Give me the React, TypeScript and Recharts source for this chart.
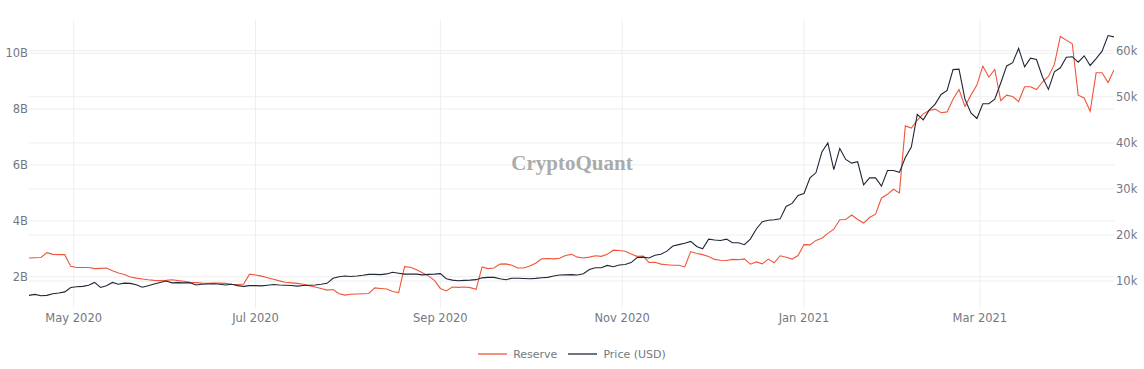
import React from 'react';
import { LineChart, Line, XAxis, YAxis, CartesianGrid, Legend } from 'recharts';

// one sample every 2 days, starting 16 Apr 2020
const START = Date.UTC(2020, 3, 16);
const DAY = 86400000;
const STEP_DAYS = 2;

// exchange reserve, billions
const reserve = [
  2.67, 2.68, 2.69, 2.86, 2.8, 2.79, 2.79, 2.37, 2.33, 2.33,
  2.33, 2.29, 2.3, 2.31, 2.21, 2.13, 2.08, 1.99, 1.95, 1.92,
  1.89, 1.87, 1.86, 1.87, 1.89, 1.86, 1.84, 1.8, 1.79, 1.77,
  1.76, 1.77, 1.77, 1.76, 1.73, 1.72, 1.74, 2.09, 2.06, 2.02,
  1.96, 1.91, 1.85, 1.8, 1.78, 1.76, 1.73, 1.68, 1.63, 1.58,
  1.52, 1.54, 1.39, 1.34, 1.37, 1.38, 1.39, 1.4, 1.6, 1.58,
  1.56, 1.47, 1.43, 2.36, 2.34, 2.25, 2.14, 2.03, 1.87, 1.58,
  1.49, 1.63, 1.62, 1.63, 1.61, 1.55, 2.35, 2.29, 2.31, 2.45,
  2.46, 2.41, 2.31, 2.31, 2.38, 2.48, 2.64, 2.65, 2.64, 2.66,
  2.76, 2.8, 2.7, 2.67, 2.7, 2.75, 2.73, 2.8, 2.95, 2.94,
  2.91, 2.81, 2.73, 2.74, 2.51, 2.52, 2.45, 2.43, 2.41, 2.41,
  2.35, 2.9, 2.83, 2.79, 2.72, 2.62, 2.59, 2.58, 2.62, 2.61,
  2.64, 2.45, 2.53, 2.46, 2.63, 2.5, 2.75, 2.7, 2.63, 2.76,
  3.15, 3.14, 3.3, 3.38, 3.55, 3.7, 4.04, 4.05, 4.21, 4.05,
  3.92, 4.12, 4.24, 4.82, 4.95, 5.13, 5.0, 7.4, 7.32, 7.6,
  7.83, 7.95, 8.0, 7.87, 7.9, 8.35, 8.7, 8.1, 8.5, 8.86,
  9.54, 9.15, 9.42, 8.3, 8.5, 8.45, 8.27, 8.8, 8.8, 8.7,
  8.97, 9.17, 9.6, 10.6, 10.47, 10.34, 8.5, 8.4, 7.92, 9.3,
  9.3, 8.95, 9.4,
];

// BTC price, thousands of USD
const price = [
  6.9, 7.1, 6.8, 6.9, 7.25, 7.4, 7.65, 8.6, 8.75, 8.85,
  9.1, 9.7, 8.6, 9.0, 9.7, 9.3, 9.55, 9.5, 9.2, 8.65,
  9.0, 9.35, 9.7, 10.0, 9.6, 9.65, 9.6, 9.65, 9.15, 9.3,
  9.35, 9.4, 9.3, 9.15, 9.3, 9.0, 8.85, 9.0, 9.0, 8.95,
  9.1, 9.25, 9.15, 9.1, 9.05, 8.9, 9.05, 9.1, 9.15, 9.3,
  9.5, 10.6, 10.95, 11.1, 11.0, 11.1, 11.25, 11.45, 11.45, 11.4,
  11.55, 11.9, 11.7, 11.5, 11.5, 11.5, 11.35, 11.45, 11.5, 11.6,
  10.5, 10.2, 10.07, 10.14, 10.2, 10.3, 10.7, 10.8, 10.8, 10.5,
  10.3, 10.6, 10.6, 10.55, 10.5, 10.58, 10.7, 10.8, 11.1, 11.3,
  11.35, 11.4, 11.3, 11.6, 12.5, 12.9, 12.9, 13.4, 13.1, 13.47,
  13.6, 14.0, 15.1, 15.2, 15.0, 15.6, 15.8, 16.5, 17.6, 17.9,
  18.2, 18.6, 17.5, 17.0, 19.1, 18.9, 18.8, 19.1, 18.3, 18.3,
  17.9, 19.1, 21.3, 22.9, 23.2, 23.3, 23.5, 26.2, 26.85, 28.6,
  29.0, 32.4, 33.5, 38.0, 40.0, 34.2, 38.8, 36.4, 35.6, 35.9,
  30.9, 32.4, 32.4, 30.6, 34.0, 34.0, 33.6, 36.8, 39.1, 46.2,
  45.0, 47.1, 48.4, 50.5, 51.4, 55.9, 56.0, 49.5, 46.5, 45.3,
  48.5, 48.5, 49.5, 53.0, 56.7, 57.4, 60.5, 56.5, 58.4, 58.1,
  54.3, 51.6, 55.4, 56.3, 58.6, 58.7, 57.5, 58.9, 56.8, 58.3,
  59.9, 63.3, 63.0,
];

const monthTicks = [
  Date.UTC(2020, 4, 1),
  Date.UTC(2020, 6, 1),
  Date.UTC(2020, 8, 1),
  Date.UTC(2020, 10, 1),
  Date.UTC(2021, 0, 1),
  Date.UTC(2021, 2, 1),
];
const monthLabels = ['May 2020', 'Jul 2020', 'Sep 2020', 'Nov 2020', 'Jan 2021', 'Mar 2021'];

const reserveTicks = [2, 4, 6, 8, 10];
const priceTicks = [10, 20, 30, 40, 50, 60];

const legendOrder = ['Reserve', 'Price (USD)'];

const data = reserve.map((r, i) => ({
  t: START + i * STEP_DAYS * DAY,
  reserve: r,
  price: price[i],
}));

const FONT = '"DejaVu Sans", Verdana, sans-serif';
const TEXT = '#737884';
const GRID = '#eeeeee';

const tickStyle = { fill: TEXT, fontSize: 11.5, fontFamily: FONT };

const renderLegend = (props: any) => {
  const items = [...(props.payload || [])].sort(
    (a: any, b: any) => legendOrder.indexOf(a.value) - legendOrder.indexOf(b.value)
  );
  return (
    <div
      style={{
        display: 'flex',
        justifyContent: 'center',
        alignItems: 'center',
        gap: 11,
        height: 20,
        fontFamily: FONT,
        fontSize: 11,
        color: TEXT,
      }}
    >
      {items.map((entry: any) => (
        <div key={entry.value} style={{ display: 'flex', alignItems: 'center' }}>
          <svg width={29} height={4}>
            <line x1={0} y1={2} x2={29} y2={2} stroke={entry.color} strokeWidth={1.3} />
          </svg>
          <span style={{ marginLeft: 6 }}>{entry.value}</span>
        </div>
      ))}
    </div>
  );
};

const App: React.FC = () => {
  return (
    <div style={{ position: 'absolute', left: 0, top: 0, width: 1144, height: 369, background: '#fff' }}>
      <LineChart width={1144} height={369} data={data} margin={{ top: 20, right: 0, left: 0, bottom: 5 }}>
        <CartesianGrid yAxisId="left" stroke={GRID} syncWithTicks />
        <CartesianGrid yAxisId="right" vertical={false} stroke={GRID} syncWithTicks />
        <XAxis
          dataKey="t"
          type="number"
          domain={[START, START + 364 * DAY]}
          allowDataOverflow
          ticks={monthTicks}
          interval={0}
          tickFormatter={(v: number) => monthLabels[monthTicks.indexOf(v)] ?? ''}
          axisLine={false}
          tickLine={false}
          tickSize={0}
          tickMargin={6}
          height={36}
          tick={tickStyle}
        />
        <YAxis
          yAxisId="left"
          orientation="left"
          width={29}
          domain={[0.88, 11.19]}
          allowDataOverflow
          ticks={reserveTicks}
          interval={0}
          tickFormatter={(v: number) => `${v}B`}
          axisLine={false}
          tickLine={false}
          tickSize={0}
          tickMargin={1}
          tick={tickStyle}
        />
        <YAxis
          yAxisId="right"
          orientation="right"
          width={30}
          domain={[4.15, 66.67]}
          allowDataOverflow
          ticks={priceTicks}
          interval={0}
          tickFormatter={(v: number) => `${v}k`}
          axisLine={false}
          tickLine={false}
          tickSize={0}
          tickMargin={2}
          tick={tickStyle}
        />
        <Legend verticalAlign="bottom" content={renderLegend} />
        <Line
          yAxisId="left"
          type="linear"
          dataKey="reserve"
          name="Reserve"
          stroke="#f0553b"
          strokeWidth={1.1}
          dot={false}
          activeDot={false}
          isAnimationActive={false}
        />
        <Line
          yAxisId="right"
          type="linear"
          dataKey="price"
          name="Price (USD)"
          stroke="#1f2736"
          strokeWidth={1.1}
          dot={false}
          activeDot={false}
          isAnimationActive={false}
        />
      </LineChart>
      <div
        style={{
          position: 'absolute',
          left: 0,
          width: 1144,
          top: 150,
          textAlign: 'center',
          fontFamily: '"Liberation Serif", "DejaVu Serif", serif',
          fontWeight: 700,
          fontSize: 21,
          color: '#ababab',
          pointerEvents: 'none',
          lineHeight: '26px',
        }}
      >
        CryptoQuant
      </div>
    </div>
  );
};

export default App;
